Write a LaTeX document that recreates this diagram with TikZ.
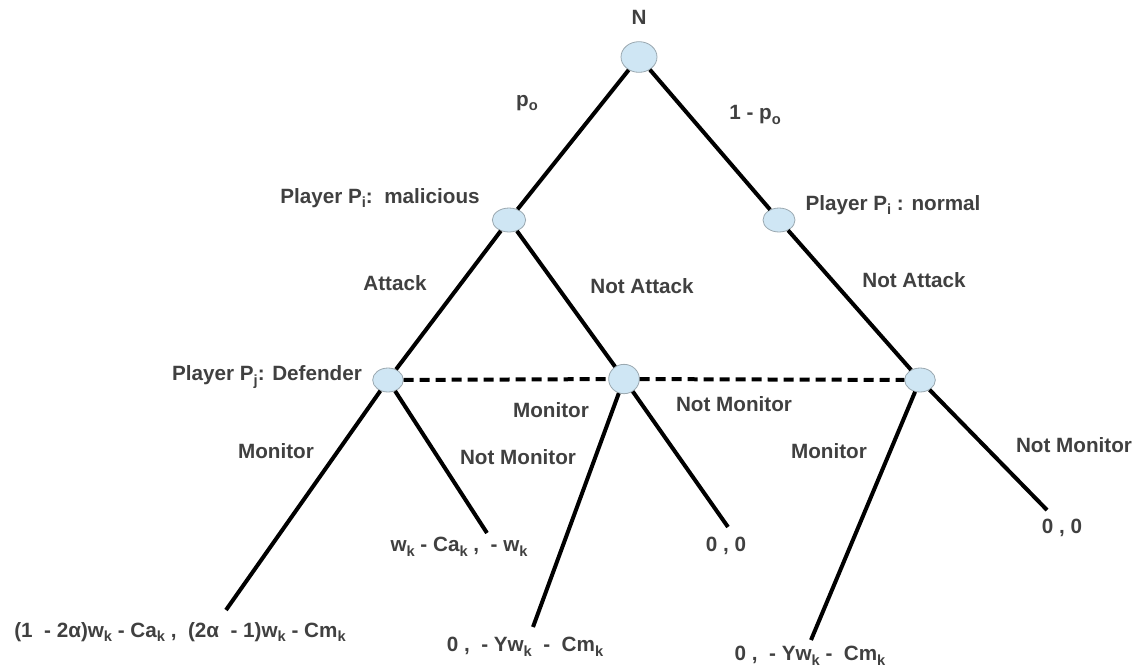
\documentclass[tikz,border=0pt]{standalone}
\usepackage{fontspec}
\setmainfont{Liberation Sans}
\usetikzlibrary{shapes.geometric}
\definecolor{txtgray}{HTML}{404040}
\definecolor{nodeblue}{HTML}{CFE6F4}
\definecolor{rimgray}{HTML}{9AA8B0}
\newcommand{\sbs}[1]{\raisebox{-0.45ex}{\fontsize{11}{12}\selectfont #1}}

\begin{document}
\begin{tikzpicture}[x=0.75pt, y=-0.75pt,
    every node/.style={font=\fontsize{15.5}{18}\selectfont\bfseries, text=txtgray},
    dot/.style={ellipse, draw=rimgray, fill=nodeblue, line width=0.6pt, inner sep=0pt},
    branch/.style={line width=3pt, black},
    info/.style={line width=3pt, black, dash pattern=on 7.5pt off 4.5pt}]
        \useasboundingbox (0,0) rectangle (1138,669);
        % decision nodes
        \node [dot, minimum width=27pt, minimum height=23pt] (N) at (639,57) {};
        \node [dot, minimum width=25pt, minimum height=18pt] (mal) at (509,220) {};
        \node [dot, minimum width=24pt, minimum height=18pt] (nor) at (779,220) {};
        \node [dot, minimum width=23pt, minimum height=18pt] (ldef) at (388,380) {};
        \node [dot, minimum width=23pt, minimum height=22pt] (mdef) at (624,379) {};
        \node [dot, minimum width=23pt, minimum height=18pt] (rdef) at (920,380) {};
        % leaves
        \coordinate (l1) at (226,610);
        \coordinate (l2) at (487,533);
        \coordinate (l3) at (533,627);
        \coordinate (l4) at (728,527);
        \coordinate (l5) at (811,640);
        \coordinate (l6) at (1047,510);
        \draw [branch] (N) -- (mal);
        \draw [branch] (N) -- (nor);
        \draw [branch] (mal) -- (ldef);
        \draw [branch] (mal) -- (mdef);
        \draw [branch] (nor) -- (rdef);
        \draw [info] (ldef) -- (mdef);
        \draw [info] (mdef) -- (rdef);
        \draw [branch] (ldef) -- (l1);
        \draw [branch] (ldef) -- (l2);
        \draw [branch] (mdef) -- (l3);
        \draw [branch] (mdef) -- (l4);
        \draw [branch] (rdef) -- (l5);
        \draw [branch] (rdef) -- (l6);
        % labels
        \node (tN) at (639,17) {N};
        \node (tp) at (527,103) {p\sbs{o}};
        \node (tq) at (755,115) {1 - p\sbs{o}};
        \node (tmal) at (380,198) {Player P\sbs{i}:\ \ malicious};
        \node (tnor) at (893,205) {Player P\sbs{i} : normal};
        \node (ta) at (395,283) {Attack};
        \node (tna1) at (642,286) {Not Attack};
        \node (tna2) at (914,280) {Not Attack};
        \node (tdef) at (267,377) {Player P\sbs{j}: Defender};
        \node (tm1) at (276,451) {Monitor};
        \node (tn1) at (518,457) {Not Monitor};
        \node (tm2) at (551,410) {Monitor};
        \node (tn2) at (734,404) {Not Monitor};
        \node (tm3) at (829,451) {Monitor};
        \node (tn3) at (1074,445) {Not Monitor};
        \node (p1) at (180,632) {(1\ \ - 2α)w\sbs{k} - Ca\sbs{k} ,\ \ (2α\ \ - 1)w\sbs{k} - Cm\sbs{k}};
        \node (p2) at (459,547) {w\sbs{k} - Ca\sbs{k} ,\ \ - w\sbs{k}};
        \node (p3) at (525,647) {0 ,\ \ - Yw\sbs{k}\ \ -\ \ Cm\sbs{k}};
        \node (p4) at (726,546) {0 , 0};
        \node (p5) at (810,656) {0 ,\ \ - Yw\sbs{k} -\ \ Cm\sbs{k}};
        \node (p6) at (1062,528) {0 , 0};
      \end{tikzpicture}
\end{document}
